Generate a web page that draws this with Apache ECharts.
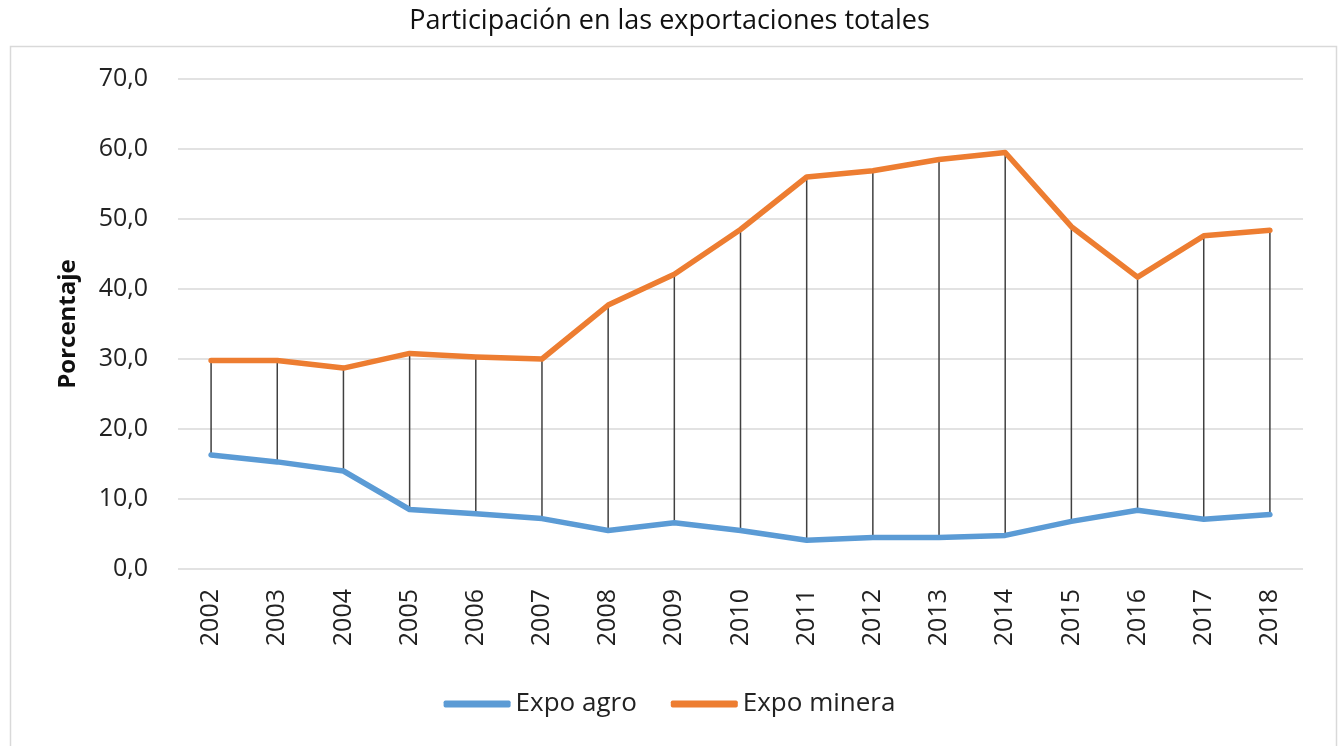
<!DOCTYPE html>
<html>
<head>
<meta charset="utf-8">
<title>Participación en las exportaciones totales</title>
<script src="https://cdn.jsdelivr.net/npm/echarts@6/dist/echarts.min.js"></script>
<style>
  html, body { margin: 0; padding: 0; background: #fff; }
  #chart { width: 1339px; height: 746px; }
</style>
</head>
<body>
<div id="chart"></div>
<script>
  // datos
  var years = ['2002', '2003', '2004', '2005', '2006', '2007', '2008', '2009', '2010',
    '2011', '2012', '2013', '2014', '2015', '2016', '2017', '2018']
  var expoAgro = [16.3, 15.3, 14.0, 8.5, 7.9, 7.2, 5.5, 6.6, 5.5, 4.1, 4.5, 4.5, 4.8, 6.8, 8.4, 7.1, 7.8]
  var expoMinera = [29.8, 29.8, 28.7, 30.8, 30.3, 30.0, 37.7, 42.1, 48.5, 56.0, 56.9, 58.5, 59.5, 48.9, 41.7, 47.6, 48.4]

  var font = '"Open Sans", "Noto Sans", sans-serif'
  var blue = '#5B9BD5'
  var orange = '#ED7D31'

  // lineas max-min entre las dos series
  var hiLow = years.map(function (y, i) {
    return [i, expoAgro[i], expoMinera[i]]
  })

  var chart = echarts.init(document.getElementById('chart'))

  chart.setOption({
    animation: false,
    textStyle: { fontFamily: font },
    title: {
      text: 'Participación en las exportaciones totales',
      left: 'center',
      top: 3,
      textStyle: { fontFamily: font, fontSize: 27, fontWeight: 'normal', color: '#111' }
    },
    graphic: [{
      type: 'rect',
      left: 8,
      top: 44,
      shape: { width: 1326, height: 720 },
      style: { fill: 'none', stroke: '#d9d9d9', lineWidth: 1.5 },
      silent: true
    }],
    legend: {
      bottom: 24,
      left: 'center',
      itemWidth: 67,
      itemHeight: 7,
      itemGap: 34,
      icon: 'roundRect',
      textStyle: { fontFamily: font, fontSize: 26, color: '#222' },
      data: ['Expo agro', 'Expo minera']
    },
    grid: {
      left: 178,
      right: 36,
      top: 79,
      bottom: 177
    },
    xAxis: {
      type: 'category',
      data: years,
      boundaryGap: true,
      axisLine: { show: false },
      axisTick: { show: false },
      axisLabel: {
        rotate: 90,
        fontSize: 25,
        color: '#222',
        margin: 20
      }
    },
    yAxis: {
      type: 'value',
      min: 0,
      max: 70,
      interval: 10,
      name: 'Porcentaje',
      nameLocation: 'middle',
      nameGap: 98,
      nameRotate: 90,
      nameTextStyle: { fontFamily: font, fontSize: 24, fontWeight: 'bold', color: '#111' },
      axisLine: { show: false },
      axisTick: { show: false },
      axisLabel: {
        fontSize: 25,
        color: '#222',
        margin: 30,
        formatter: function (v) {
          return v.toFixed(1).replace('.', ',')
        }
      },
      splitLine: { lineStyle: { color: '#d9d9d9', width: 1.5 } }
    },
    series: [
      {
        name: 'hilo',
        type: 'custom',
        silent: true,
        z: 1,
        data: hiLow,
        renderItem: function (params, api) {
          var lo = api.coord([api.value(0), api.value(1)])
          var hi = api.coord([api.value(0), api.value(2)])
          return {
            type: 'line',
            shape: { x1: lo[0], y1: lo[1], x2: hi[0], y2: hi[1] },
            style: { stroke: '#404040', lineWidth: 1.5 }
          }
        }
      },
      {
        name: 'Expo agro',
        type: 'line',
        data: expoAgro,
        symbol: 'none',
        z: 3,
        lineStyle: { color: blue, width: 5.5, cap: 'round', join: 'round' },
        itemStyle: { color: blue }
      },
      {
        name: 'Expo minera',
        type: 'line',
        data: expoMinera,
        symbol: 'none',
        z: 3,
        lineStyle: { color: orange, width: 5.5, cap: 'round', join: 'round' },
        itemStyle: { color: orange }
      }
    ]
  })
</script>
</body>
</html>
